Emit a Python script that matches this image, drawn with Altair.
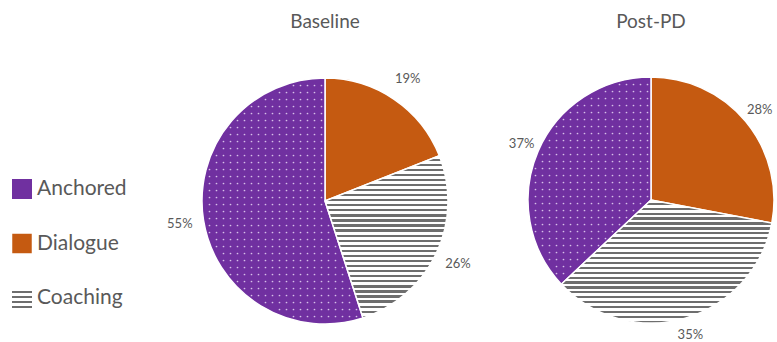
import math
import altair as alt
import pandas as pd

# ---- data ----
categories = ["Anchored", "Dialogue", "Coaching"]
baseline_pct = [55, 19, 26]
postpd_pct = [37, 28, 35]
panel_titles = ["Baseline", "Post-PD"]
clock_order = ["Dialogue", "Coaching", "Anchored"]   # clockwise from 12 o'clock

# ---- styling ----
PURPLE = "#7030A0"
ORANGE = "#C55A11"
STRIPE = "#6E6E6E"
DOT = "#D6BFE8"
TEXT = "#595959"
FONT = "Lato"
W, H = 777, 342
R = 123
CENTERS = [(325, 201), (651, 200)]
LABEL_RADII = [147, 141]

theta_scale = alt.Scale(domain=[0, 100])


def pie_frame(values):
    d = dict(zip(categories, values))
    rows, acc = [], 0
    for c in clock_order:
        v = d[c]
        rows.append(dict(category=c, value=v, start=acc, end=acc + v,
                         mid=acc + v / 2, label=f"{v}%"))
        acc += v
    return pd.DataFrame(rows)


def stripes(n, dark=0.45):
    stops = []
    for k in range(n):
        a, b, c = k / n, (k + 1 - dark) / n, (k + 1) / n
        stops += [{"offset": a, "color": "white"}, {"offset": b, "color": "white"},
                  {"offset": b, "color": STRIPE}, {"offset": c, "color": STRIPE}]
    return {"gradient": "linear", "x1": 0, "y1": 0, "x2": 0, "y2": 1, "stops": stops}


def slice_height(a0, a1):
    ys = [0.0, -R * math.cos(math.radians(a0)), -R * math.cos(math.radians(a1))]
    for ext, yv in ((0, -R), (180, R), (360, -R)):
        if a0 < ext < a1:
            ys.append(yv)
    return max(ys) - min(ys)


def pie_layers(values, center, title, label_r):
    cx, cy = center
    df = pie_frame(values)
    base = alt.Chart(df)
    solid = base.transform_filter(alt.datum.category != "Coaching").mark_arc(
        outerRadius=R, stroke="white", strokeWidth=1.5
    ).encode(
        theta=alt.Theta("start:Q", scale=theta_scale, stack=None),
        theta2="end:Q",
        color=alt.Color("category:N",
                        scale=alt.Scale(domain=["Anchored", "Dialogue"], range=[PURPLE, ORANGE]),
                        legend=None),
        x=alt.value(cx), y=alt.value(cy),
    )
    row = df[df.category == "Coaching"].iloc[0]
    a0, a1 = row.start * 3.6, row.end * 3.6
    n = max(2, round(slice_height(a0, a1) / 5))
    coach = base.transform_filter(alt.datum.category == "Coaching").mark_arc(
        outerRadius=R, stroke="white", strokeWidth=1.5, fill=stripes(n)
    ).encode(
        theta=alt.Theta("start:Q", scale=theta_scale, stack=None),
        theta2="end:Q",
        x=alt.value(cx), y=alt.value(cy),
    )
    # dotted texture on the Anchored slice
    arow = df[df.category == "Anchored"].iloc[0]
    b0, b1 = arow.start * 3.6, arow.end * 3.6
    step = 7
    m = int(2 * R / step) + 3
    half = (m - 1) / 2
    dots = alt.Chart(alt.sequence(0, m * m, as_="k")).transform_calculate(
        dx=f"(datum.k % {m} - {half}) * {step}",
        dy=f"(floor(datum.k / {m}) - {half}) * {step}",
    ).transform_calculate(
        r="sqrt(datum.dx * datum.dx + datum.dy * datum.dy)",
        ang="(atan2(datum.dx, -datum.dy) * 180 / PI + 360) % 360",
    ).transform_calculate(
        da=f"min(datum.ang - {b0}, {b1} - datum.ang)",
        px=f"{cx} + datum.dx", py=f"{cy} + datum.dy",
    ).transform_filter(
        f"datum.r < {R - 3} && datum.da > 0 && "
        f"(datum.da >= 90 ? datum.r : datum.r * sin(datum.da * PI / 180)) > 2.5"
    ).mark_circle(size=3, color=DOT, opacity=1).encode(
        x=alt.X("px:Q", scale=None, axis=None),
        y=alt.Y("py:Q", scale=None, axis=None),
    )
    labels = base.mark_text(radius=label_r, fontSize=13, font=FONT, color=TEXT,
                            align="center", baseline="middle").encode(
        theta=alt.Theta("mid:Q", scale=theta_scale, stack=None),
        text="label:N",
        x=alt.value(cx), y=alt.value(cy),
    )
    ttl = alt.Chart(pd.DataFrame({"t": [title]})).mark_text(
        fontSize=19, font=FONT, color=TEXT, align="center", baseline="alphabetic"
    ).encode(text="t:N", x=alt.value(cx), y=alt.value(28))
    return [solid, coach, dots, labels, ttl]


# ---- legend ----
leg_df = pd.DataFrame({"category": categories})
leg_y = alt.Y("category:N", scale=alt.Scale(domain=categories, range=[189, 298], padding=0),
              axis=None)
leg_base = alt.Chart(leg_df)
leg_anch = leg_base.transform_filter(alt.datum.category == "Anchored").mark_square(
    size=400, fill=PURPLE, opacity=1).encode(x=alt.value(22), y=leg_y)
leg_dial = leg_base.transform_filter(alt.datum.category == "Dialogue").mark_square(
    size=380, fill=ORANGE, opacity=1).encode(x=alt.value(22), y=leg_y)
leg_coach = leg_base.transform_filter(alt.datum.category == "Coaching").mark_square(
    size=400, fill=stripes(4), opacity=1).encode(x=alt.value(22), y=leg_y)
leg_text = leg_base.mark_text(align="left", baseline="middle", fontSize=21, font=FONT,
                              color=TEXT).encode(x=alt.value(37), y=leg_y, text="category:N")

layers = (pie_layers(baseline_pct, CENTERS[0], panel_titles[0], LABEL_RADII[0])
          + pie_layers(postpd_pct, CENTERS[1], panel_titles[1], LABEL_RADII[1])
          + [leg_anch, leg_dial, leg_coach, leg_text])

chart = alt.layer(*layers).resolve_scale(
    x="independent", y="independent", color="independent"
).properties(
    width=W, height=H, padding=0,
    autosize=alt.AutoSizeParams(type="none"),
).configure_view(stroke=None)

chart.save("out.html", embed_options={"renderer": "svg", "actions": False})
